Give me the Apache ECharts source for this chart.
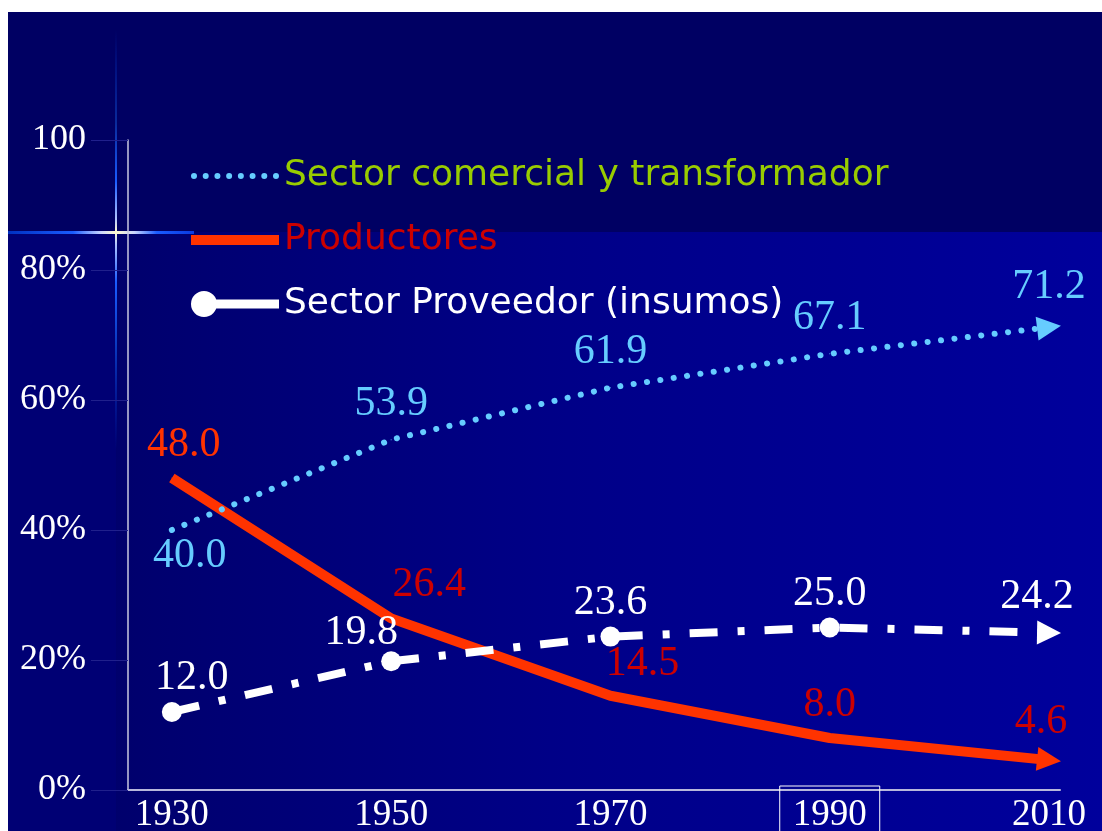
<!DOCTYPE html>
<html>
<head>
<meta charset="utf-8">
<title>Sectores</title>
<script src="https://cdn.jsdelivr.net/npm/echarts@6/dist/echarts.min.js"></script>
<style>
  html, body { margin: 0; padding: 0; background: #fff; }
  #bg {
    position: absolute; left: 8px; top: 12px; width: 1094px; height: 819px;
    background:
      linear-gradient(to bottom, #000063 0px, #000063 220px, transparent 220px),
      linear-gradient(to right, #000074 0px, #000074 108px, transparent 108px),
      linear-gradient(to right, #000064 0px, #00006e 130px, #000088 560px, #00009c 1094px);
  }
  #chart { position: absolute; left: 0; top: 0; width: 1102px; height: 831px; }
</style>
</head>
<body>
<div id="bg"></div>
<div id="chart"></div>
<script>
// datos
const years = [1930, 1950, 1970, 1990, 2010];
const comercial = [40.0, 53.9, 61.9, 67.1, 71.2];
const productores = [48.0, 26.4, 14.5, 8.0, 4.6];
const proveedor = [12.0, 19.8, 23.6, 25.0, 24.2];
const names = ['Sector comercial y transformador', 'Productores', 'Sector Proveedor (insumos)'];

const serif = '"Liberation Serif", "Times New Roman", serif';
const sans = '"DejaVu Sans", Verdana, sans-serif';

// ajustes por punto (etiquetas y flecha final)
const comercialItems = [
  { label: { position: 'bottom', distance: 4, offset: [18, 0] } },
  null, null, null,
  { symbol: 'triangle', symbolSize: 24, symbolRotate: -83, label: { distance: 6 } }
];
const productoresItems = [
  { label: { color: '#ff3300', offset: [12, 0] } },
  { label: { offset: [38, 0] } },
  { label: { offset: [32, 2] } },
  null,
  { symbol: 'triangle', symbolSize: 24, symbolRotate: -96, label: { distance: 4, offset: [-8, 0] } }
];
const proveedorItems = [
  { label: { offset: [20, 0] } },
  { label: { offset: [-30, 6] } },
  null, null,
  { symbol: 'triangle', symbolSize: 24, symbolRotate: -91, label: { offset: [-12, 0] } }
];

function build (values, items) {
  return values.map(function (v, i) {
    return Object.assign({ value: [years[i], v] }, items[i] || {});
  });
}

function fmt (p) {
  return p.value[1].toFixed(1);
}

// iconos de la leyenda
let dots = '';
for (let i = 0; i < 8; i++) {
  const cx = 3 + i * 11.7;
  dots += 'M' + (cx - 3) + ' 3 A3 3 0 1 1 ' + (cx + 3) + ' 3 A3 3 0 1 1 ' + (cx - 3) + ' 3 Z ';
}
const iconDots = 'path://' + dots;
const iconBar = 'path://M0 0 H88 V10 H0 Z';
const iconPin = 'path://M0 14 A13 13 0 1 1 26 14 A13 13 0 1 1 0 14 Z M13 9.5 H88 V18.5 H13 Z';

const chart = echarts.init(document.getElementById('chart'))
chart.setOption({
  animation: false,
  backgroundColor: 'transparent',
  grid: { left: 128, right: 42, top: 140, bottom: 41, outerBoundsMode: 'none' },
  legend: {
    orient: 'vertical',
    left: 186,
    top: 151,
    itemWidth: 88,
    itemHeight: 28,
    itemGap: 24,
    selectedMode: false,
    itemStyle: { borderWidth: 0 },
    textStyle: { fontFamily: sans, fontSize: 36, lineHeight: 40 },
    data: [
      { name: names[0], icon: iconDots, itemStyle: { color: '#66ccff' }, textStyle: { color: '#99cc00' } },
      { name: names[1], icon: iconBar, itemStyle: { color: '#ff3300' }, textStyle: { color: '#cc0000' } },
      { name: names[2], icon: iconPin, itemStyle: { color: '#ffffff' }, textStyle: { color: '#ffffff' } }
    ]
  },
  graphic: [
    { // destello vertical
      type: 'rect', silent: true, z: 0,
      shape: { x: 115, y: 30, width: 2, height: 420 },
      style: {
        fill: new echarts.graphic.LinearGradient(0, 0, 0, 1, [
          { offset: 0, color: 'rgba(0,40,180,0)' },
          { offset: 0.22, color: '#0a2a9a' },
          { offset: 0.36, color: '#1a5cff' },
          { offset: 0.45, color: '#b0c4ff' },
          { offset: 0.48, color: '#fffbd0' },
          { offset: 0.51, color: '#b0c4ff' },
          { offset: 0.6, color: '#1a5cff' },
          { offset: 0.75, color: '#0a3ac0' },
          { offset: 1, color: 'rgba(0,40,180,0)' }
        ])
      }
    },
    { // destello horizontal
      type: 'rect', silent: true, z: 0,
      shape: { x: 8, y: 231, width: 186, height: 3 },
      style: {
        fill: new echarts.graphic.LinearGradient(0, 0, 1, 0, [
          { offset: 0, color: '#0030c0' },
          { offset: 0.35, color: '#1a5cff' },
          { offset: 0.5, color: '#c8d4ff' },
          { offset: 0.58, color: '#fffbd0' },
          { offset: 0.68, color: '#c8d4ff' },
          { offset: 0.8, color: '#1a5cff' },
          { offset: 1, color: '#0a3ae0' }
        ])
      }
    }
  ],
  xAxis: {
    type: 'value',
    min: 1926,
    max: 2011,
    splitLine: { show: false },
    axisTick: { show: false },
    axisLine: { show: true, lineStyle: { color: '#b8b8dc', width: 2 } },
    axisLabel: {
      customValues: years,
      margin: -4,
      formatter: function (v) {
        return v === 1990 ? '{box|' + v + '}' : '{n|' + v + '}';
      },
      rich: {
        n: { color: '#fff', fontFamily: serif, fontSize: 37, padding: [11, 0, 0, 0] },
        box: { color: '#fff', fontFamily: serif, fontSize: 37, padding: [11, 13, 10, 13], borderColor: '#fff', borderWidth: 1 }
      }
    }
  },
  yAxis: {
    type: 'value',
    min: 0,
    max: 100,
    interval: 20,
    splitLine: { show: false },
    axisLine: { show: true, lineStyle: { color: '#c8c8e0', width: 1.5 } },
    axisTick: { show: true, length: 37, lineStyle: { color: '#20208c' } },
    axisLabel: {
      margin: 42,
      color: '#fff',
      fontFamily: serif,
      fontSize: 36,
      formatter: function (v) { return v === 100 ? '100' : v + '%'; }
    }
  },
  series: [
    {
      name: names[1],
      type: 'line',
      data: build(productores, productoresItems),
      symbol: 'circle',
      symbolSize: 1,
      itemStyle: { color: '#ff3300' },
      lineStyle: { color: '#ff3300', width: 10 },
      label: { show: true, position: 'top', distance: 12, color: '#cc0000', fontFamily: serif, fontSize: 42, formatter: fmt },
      emphasis: { disabled: true },
      z: 2
    },
    {
      name: names[0],
      type: 'line',
      data: build(comercial, comercialItems),
      symbol: 'circle',
      symbolSize: 1,
      itemStyle: { color: '#66ccff' },
      lineStyle: { color: '#66ccff', width: 6, type: [0.1, 13.4], cap: 'round' },
      label: { show: true, position: 'top', distance: 14, color: '#66ccff', fontFamily: serif, fontSize: 42, formatter: fmt },
      emphasis: { disabled: true },
      z: 3
    },
    {
      name: names[2],
      type: 'line',
      data: build(proveedor, proveedorItems),
      symbol: 'circle',
      symbolSize: 20,
      itemStyle: { color: '#ffffff' },
      lineStyle: { color: '#ffffff', width: 8, type: [28, 20, 7, 20] },
      label: { show: true, position: 'top', distance: 3, color: '#ffffff', fontFamily: serif, fontSize: 42, formatter: fmt },
      emphasis: { disabled: true },
      z: 4
    }
  ]
})
</script>
</body>
</html>
